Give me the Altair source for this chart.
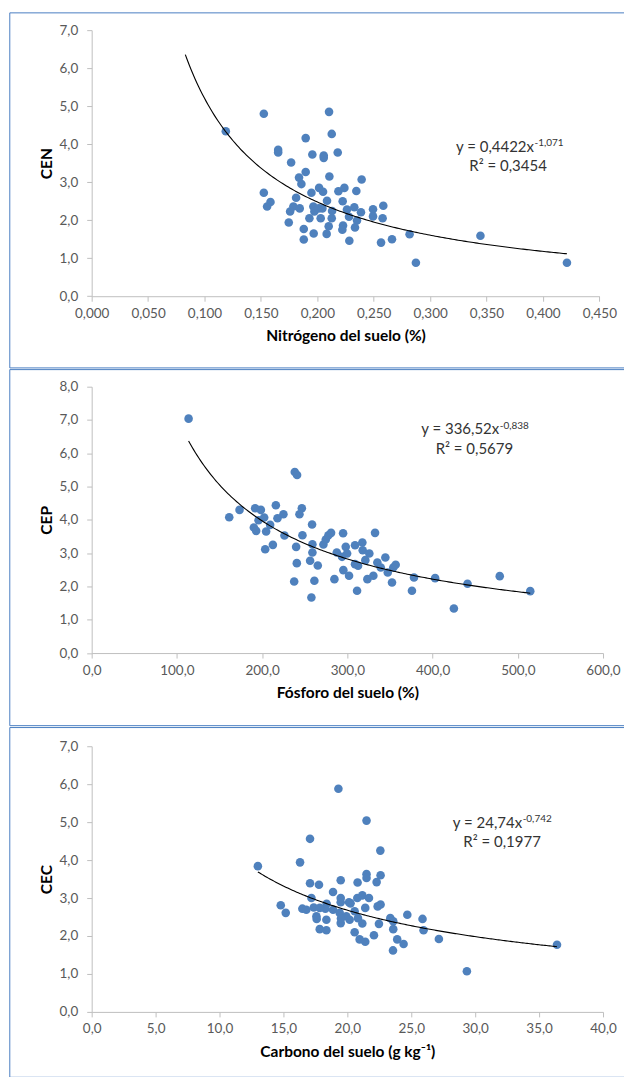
import altair as alt
import pandas as pd

# ---------------- data ----------------
# Panel 1: Nitrógeno del suelo (%) vs CEN
N_X = [0.1526, 0.2104, 0.1189, 0.2128, 0.1897, 0.1653, 0.1653, 0.1956, 0.2057, 0.2057,
       0.2181, 0.1768, 0.1897, 0.2107, 0.2393, 0.1838, 0.1859, 0.2016, 0.2051, 0.1948,
       0.2187, 0.2240, 0.2346, 0.1526, 0.1585, 0.1555, 0.1812, 0.2086, 0.2225, 0.1788,
       0.1759, 0.1844, 0.1965, 0.1974, 0.2013, 0.2045, 0.2131, 0.2263, 0.2328, 0.2387,
       0.2494, 0.2585, 0.2494, 0.2579, 0.2281, 0.2352, 0.2334, 0.2228, 0.2222, 0.2128,
       0.2030, 0.1930, 0.2101, 0.1747, 0.1880, 0.1968, 0.2083, 0.1880, 0.2284, 0.2565,
       0.2662, 0.2818, 0.2874, 0.3446, 0.4213]
N_Y = [4.80, 4.85, 4.34, 4.27, 4.16, 3.85, 3.78, 3.73, 3.70, 3.64,
       3.78, 3.52, 3.27, 3.15, 3.07, 3.12, 2.95, 2.85, 2.75, 2.72,
       2.76, 2.85, 2.77, 2.72, 2.48, 2.36, 2.59, 2.51, 2.50, 2.36,
       2.23, 2.31, 2.36, 2.23, 2.31, 2.31, 2.24, 2.28, 2.34, 2.21,
       2.29, 2.38, 2.10, 2.05, 2.09, 1.99, 1.81, 1.86, 1.75, 2.05,
       2.05, 2.05, 1.84, 1.94, 1.77, 1.65, 1.64, 1.49, 1.46, 1.41,
       1.50, 1.63, 0.88, 1.59, 0.88]

# Panel 2: Fósforo del suelo (%) vs CEP
P_X = [113.7, 238.3, 241.0, 161.4, 173.5, 191.8, 198.5, 202.4, 190.3, 193.0,
       204.7, 209.4, 216.1, 218.0, 225.0, 226.2, 246.6, 243.8, 258.6, 203.6,
       212.6, 239.9, 247.3, 259.0, 259.0, 240.7, 256.3, 265.3, 271.9, 274.7,
       277.8, 280.9, 295.0, 332.5, 287.6, 293.8, 298.1, 299.7, 309.0, 317.6,
       318.0, 325.8, 309.0, 312.6, 321.1, 295.3, 302.0, 284.8, 323.5, 330.5,
       335.2, 344.6, 339.2, 347.4, 353.9, 356.7, 352.4, 378.2, 375.8, 403.0,
       311.4, 257.8, 237.6, 261.3, 195.8, 441.0, 478.8, 514.6, 425.0]
P_Y = [7.04, 5.44, 5.35, 4.08, 4.30, 4.35, 4.30, 4.07, 3.77, 3.67,
       3.65, 3.85, 4.44, 4.05, 4.17, 3.53, 4.35, 4.17, 3.86, 3.12,
       3.25, 3.19, 3.54, 3.27, 3.02, 2.70, 2.77, 2.63, 3.26, 3.41,
       3.54, 3.61, 3.60, 3.61, 3.02, 2.89, 3.19, 2.99, 3.24, 3.32,
       3.09, 2.99, 2.67, 2.62, 2.79, 2.49, 2.32, 2.22, 2.22, 2.32,
       2.72, 2.87, 2.57, 2.42, 2.57, 2.65, 2.12, 2.27, 1.87, 2.25,
       1.87, 1.67, 2.15, 2.17, 3.99, 2.08, 2.31, 1.86, 1.34]

# Panel 3: Carbono del suelo (g kg-1) vs CEC
C_X = [19.30, 21.50, 17.08, 22.58, 13.00, 16.30, 21.50, 21.50, 22.60, 22.29,
       19.48, 20.80, 17.08, 17.78, 18.88, 17.19, 19.48, 19.48, 20.13, 20.78,
       21.17, 21.69, 22.37, 22.60, 21.40, 18.38, 14.79, 15.18, 16.48, 16.79,
       17.37, 17.58, 18.28, 18.36, 18.88, 19.40, 19.92, 20.57, 20.18, 19.48,
       20.83, 21.17, 22.47, 17.84, 18.36, 20.57, 20.96, 21.40, 22.08, 23.36,
       23.59, 23.59, 24.69, 25.88, 25.96, 23.90, 24.40, 23.57, 27.16, 29.35,
       36.40, 17.84, 20.25, 17.60, 19.50]
C_Y = [5.88, 5.04, 4.56, 4.25, 3.84, 3.94, 3.63, 3.53, 3.60, 3.42,
       3.47, 3.41, 3.39, 3.35, 3.16, 3.00, 3.00, 2.89, 2.89, 3.00,
       3.07, 3.00, 2.78, 2.83, 2.74, 2.85, 2.81, 2.61, 2.72, 2.69,
       2.75, 2.52, 2.72, 2.43, 2.69, 2.61, 2.52, 2.65, 2.43, 2.34,
       2.47, 2.33, 2.32, 2.18, 2.15, 2.10, 1.91, 1.85, 2.02, 2.47,
       2.39, 2.18, 2.56, 2.45, 2.15, 1.91, 1.79, 1.62, 1.92, 1.07,
       1.77, 2.74, 2.86, 2.45, 2.46]

# axis ticks
N_XTICKS = [0, 0.05, 0.10, 0.15, 0.20, 0.25, 0.30, 0.35, 0.40, 0.45]
P_XTICKS = [0, 100, 200, 300, 400, 500, 600]
C_XTICKS = [0, 5, 10, 15, 20, 25, 30, 35, 40]
N_YTICKS = [0, 1, 2, 3, 4, 5, 6, 7]
P_YTICKS = [0, 1, 2, 3, 4, 5, 6, 7, 8]
C_YTICKS = [0, 1, 2, 3, 4, 5, 6, 7]

# power trend lines shown on the chart: y = a * x^b, over [start, end]
N_FIT = [0.4422, -1.071, 0.083, 0.4213]
P_FIT = [336.52, -0.838, 113.7, 514.6]
C_FIT = [24.74, -0.742, 13.0, 36.4]

# texts
N_EQ = ["y = 0,4422x", "-1,071", "R\u00b2 = 0,3454"]
P_EQ = ["y = 336,52x", "-0,838", "R\u00b2 = 0,5679"]
C_EQ = ["y = 24,74x", "-0,742", "R\u00b2 = 0,1977"]

FONT = "Lato"
DOT = "#4F81BD"
FRAME = "#4A7EC2"
ONE = pd.DataFrame({"k": [0]})


def panel(xs, ys, xticks, yticks, xdec, xtitle, ytitle, fit, eq,
          width, height, frame_top, frame_bottom, eq_pos):
    df = pd.DataFrame({"x": xs, "y": ys})
    xs_scale = alt.Scale(domain=[xticks[0], xticks[-1]], nice=False, zero=False)
    ys_scale = alt.Scale(domain=[yticks[0], yticks[-1]], nice=False, zero=False)
    xaxis = alt.Axis(values=xticks, title=xtitle, grid=False, labelFlush=False,
                     labelOverlap=False,
                     labelExpr=f"replace(format(datum.value, '.{xdec}f'), '.', ',')")
    yaxis = alt.Axis(values=yticks, title=ytitle, grid=False, labelFlush=False,
                     labelOverlap=False,
                     labelExpr="replace(format(datum.value, '.1f'), '.', ',')")

    pts = alt.Chart(df).mark_circle(size=74, color=DOT, opacity=1).encode(
        x=alt.X("x:Q", scale=xs_scale, axis=xaxis),
        y=alt.Y("y:Q", scale=ys_scale, axis=yaxis),
    )
    a, b, x0, x1 = fit
    step = (x1 - x0) / 200.0
    curve = alt.Chart(alt.sequence(x0, x1 + step / 2, step, as_="x")).transform_calculate(
        y=f"{a} * pow(datum.x, {b})"
    ).mark_line(color="black", strokeWidth=1.1).encode(
        x=alt.X("x:Q", scale=xs_scale, axis=xaxis),
        y=alt.Y("y:Q", scale=ys_scale, axis=yaxis),
    )
    ex, ey, sy, rx, ry = eq_pos
    main_t = alt.Chart(ONE).mark_text(align="right", baseline="middle", font=FONT,
                                      fontSize=15, color="#333333").encode(
        x=alt.value(ex), y=alt.value(ey), text=alt.value(eq[0]))
    sup_t = alt.Chart(ONE).mark_text(align="left", baseline="middle", font=FONT,
                                     fontSize=10, color="#333333").encode(
        x=alt.value(ex + 0.5), y=alt.value(sy), text=alt.value(eq[1]))
    r2_t = alt.Chart(ONE).mark_text(align="center", baseline="middle", font=FONT,
                                    fontSize=15, color="#333333").encode(
        x=alt.value(rx), y=alt.value(ry), text=alt.value(eq[2]))

    left = -82
    right = 533
    rules = [
        alt.Chart(ONE).mark_rule(color=FRAME, strokeWidth=1).encode(
            x=alt.value(left), x2=alt.value(right), y=alt.value(frame_top)),
        alt.Chart(ONE).mark_rule(color=FRAME, strokeWidth=1).encode(
            x=alt.value(left), y=alt.value(frame_top), y2=alt.value(frame_bottom)),
    ]
    if frame_bottom < height + 80:
        rules.append(alt.Chart(ONE).mark_rule(color=FRAME, strokeWidth=1).encode(
            x=alt.value(left), x2=alt.value(right), y=alt.value(frame_bottom)))

    return alt.layer(pts, curve, *rules, main_t, sup_t, r2_t).properties(
        width=width, height=height)


p1 = panel(N_X, N_Y, N_XTICKS, N_YTICKS, 3, "Nitrógeno del suelo (%)", "CEN", N_FIT, N_EQ,
           508.3, 266.4, -17.3, 338.2, (442.9, 117.4, 113.0, 416.9, 136.4))
p2 = panel(P_X, P_Y, P_XTICKS, P_YTICKS, 1, "Fósforo del suelo (%)", "CEP", P_FIT, P_EQ,
           512, 266.7, -17.1, 339.4, (408.1, 42.5, 39.0, 383.2, 62.0))
p3 = panel(C_X, C_Y, C_XTICKS, C_YTICKS, 1, "Carbono del suelo (g kg\u207b\u00b9)", "CEC", C_FIT, C_EQ,
           512, 266.0, -18.7, 331.5, (431.0, 76.5, 73.0, 410.9, 96.0))

chart = alt.vconcat(p1, p2, p3, spacing=0).properties(
    padding={"left": 8.8, "top": 11.5, "right": 0, "bottom": 0}
).configure_view(stroke=None).configure_axis(
    labelFont=FONT, labelFontSize=13.5, labelColor="#595959",
    titleFont=FONT, titleFontSize=15.5, titleFontWeight="bold", titleColor="#000000",
    domainColor="#BFBFBF", tickColor="#BFBFBF", tickSize=5,
    domainWidth=1, tickWidth=1,
).configure_axisX(labelPadding=5, titlePadding=9).configure_axisY(labelPadding=9, titlePadding=5)

chart.save("out.html", embed_options={"renderer": "svg", "actions": False})
